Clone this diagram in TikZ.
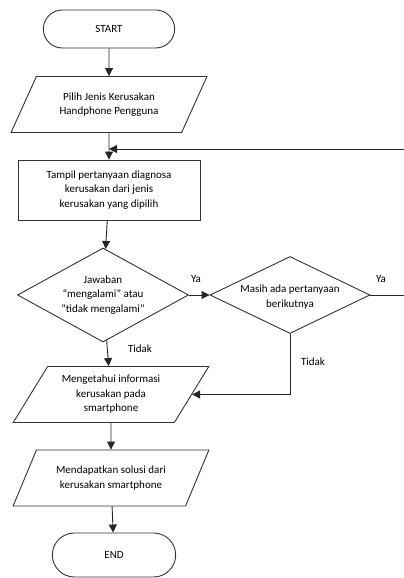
\documentclass[tikz,border=0pt]{standalone}
\usepackage{fontspec}
\setmainfont{Carlito}
\usetikzlibrary{shapes.geometric, shapes.misc, arrows.meta}

\tikzset{
  every node/.style={font=\fontsize{11}{14.5}\selectfont, align=center},
  terminal/.style={draw=black!80, rounded rectangle, line width=0.9pt},
  iobox/.style={draw=black!80, trapezium, trapezium left angle=56, trapezium right angle=124,
    trapezium stretches=true, minimum width=196, minimum height=56, inner sep=1pt, line width=0.9pt},
  procbox/.style={draw=black!80, rectangle, minimum width=182, minimum height=60, line width=0.9pt},
  decision/.style={draw=black!80, diamond, inner sep=0pt, line width=0.9pt},
  conn/.style={draw=black!85, line width=0.9pt, -{Triangle[length=8pt,width=8pt]}}
}

\begin{document}
\begin{tikzpicture}[x=1pt,y=-1pt]
\useasboundingbox (0,0) rectangle (404,578);

% Shapes
\node [terminal, minimum width=138, minimum height=38] (start) at (109,29) {START};
\node [iobox] (pilih) at (109,104.5) {Pilih Jenis Kerusakan\\Handphone Pengguna};
\node [procbox] (tampil) at (109,190) {Tampil pertanyaan diagnosa\\kerusakan dari jenis\\kerusakan yang dipilih};
\node [decision, minimum width=171, minimum height=94,
  label={[align=center]center:Jawaban\\``mengalami'' atau\\``tidak mengalami''}] (jawab) at (103,295) {};
\node [decision, minimum width=160, minimum height=77,
  label={[align=center, yshift=-2pt]center:Masih ada pertanyaan\\berikutnya}] (masih) at (290,295) {};
\node [iobox] (info) at (111,394.5) {Mengetahui informasi\\kerusakan pada\\smartphone};
\node [iobox] (solusi) at (111,478) {Mendapatkan solusi dari\\kerusakan smartphone};
\node [terminal, minimum width=130, minimum height=44] (end) at (114,555) {END};

\coordinate (gabung) at (109,149);
\coordinate (kanan) at (408,295);

% Connectors
\draw [conn] (start) -- (pilih);
\draw [conn] (pilih) -- (tampil);
\draw [conn] (tampil) -- (jawab);
\draw [conn] (jawab) -- (masih);
\draw [conn] (jawab) -- (info);
\draw [conn] (masih.south) |- (info.east);
\draw [conn] (masih.east) -- (kanan) |- (gabung);
\draw [conn] (info) -- (solusi);
\draw [conn] (solusi) -- (end);

% Text Node
\node (ya1) at (196,279) {Ya};
\node (ya2) at (381,279) {Ya};
\node (tidak1) at (140,349) {Tidak};
\node (tidak2) at (313,362) {Tidak};

\end{tikzpicture}
\end{document}
